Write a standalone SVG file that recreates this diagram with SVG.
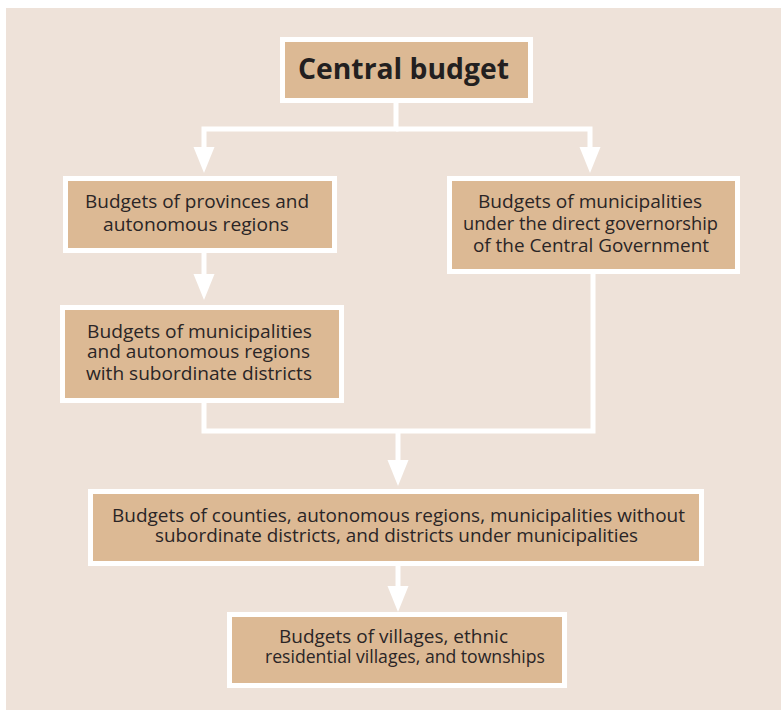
<svg xmlns="http://www.w3.org/2000/svg" width="781" height="710" viewBox="0 0 781 710">
  <style>
    .panel { fill: #eee2d9; }
    .box { fill: #dcb994; stroke: #ffffff; stroke-width: 5; }
    .lbl { font-family: "Open Sans", "Noto Sans", sans-serif; font-size: 18.5px; fill: #2a2526; text-anchor: middle; }
    .title { font-family: "Open Sans", "Noto Sans", sans-serif; font-size: 28px; font-weight: bold; fill: #231f20; text-anchor: middle; }
    .link { fill: none; stroke: #ffffff; stroke-width: 5; stroke-linejoin: miter; }
  </style>
  <defs>
    <marker id="head" markerUnits="userSpaceOnUse" markerWidth="26" markerHeight="21" refX="0" refY="10.5" orient="auto" overflow="visible">
      <path d="M0,0 L26,10.5 L0,21 Z" fill="#ffffff"/>
    </marker>
  </defs>

  <rect width="781" height="710" fill="#ffffff"/>
  <rect class="panel" x="6" y="8" width="775" height="702"/>

  <g id="connectors">
    <path class="link" d="M396,103 V129 H204 V147" marker-end="url(#head)"/>
    <path class="link" d="M396,129 H590 V147" marker-end="url(#head)"/>
    <path class="link" d="M204,253 V274" marker-end="url(#head)"/>
    <path class="link" d="M204,403 V431 H593 V274"/>
    <path class="link" d="M398,431 V460" marker-end="url(#head)"/>
    <path class="link" d="M398,566 V586" marker-end="url(#head)"/>
  </g>

  <g id="central">
    <rect class="box" x="282.5" y="39.5" width="248" height="61"/>
    <text class="title" x="403.5" y="79" textLength="211" lengthAdjust="spacingAndGlyphs">Central budget</text>
  </g>

  <g id="provinces">
    <rect class="box" x="65.5" y="178.5" width="269" height="72"/>
    <text class="lbl" x="197" y="208" textLength="224" lengthAdjust="spacingAndGlyphs">Budgets of provinces and</text>
    <text class="lbl" x="196" y="231" textLength="186" lengthAdjust="spacingAndGlyphs">autonomous regions</text>
  </g>

  <g id="direct-municipalities">
    <rect class="box" x="449.5" y="178.5" width="288" height="93"/>
    <text class="lbl" x="590" y="208" textLength="224" lengthAdjust="spacingAndGlyphs">Budgets of municipalities</text>
    <text class="lbl" x="590.5" y="230" textLength="255" lengthAdjust="spacingAndGlyphs">under the direct governorship</text>
    <text class="lbl" x="591" y="252" textLength="236" lengthAdjust="spacingAndGlyphs">of the Central Government</text>
  </g>

  <g id="districted-municipalities">
    <rect class="box" x="62.5" y="307.5" width="279" height="93"/>
    <text class="lbl" x="199.5" y="338" textLength="225" lengthAdjust="spacingAndGlyphs">Budgets of municipalities</text>
    <text class="lbl" x="198.5" y="358" textLength="223" lengthAdjust="spacingAndGlyphs">and autonomous regions</text>
    <text class="lbl" x="199" y="380" textLength="226" lengthAdjust="spacingAndGlyphs">with subordinate districts</text>
  </g>

  <g id="counties">
    <rect class="box" x="90.5" y="491.5" width="611" height="72"/>
    <text class="lbl" x="398.5" y="522" textLength="573" lengthAdjust="spacingAndGlyphs">Budgets of counties, autonomous regions, municipalities without</text>
    <text class="lbl" x="396.5" y="542" textLength="483" lengthAdjust="spacingAndGlyphs">subordinate districts, and districts under municipalities</text>
  </g>

  <g id="villages">
    <rect class="box" x="229.5" y="614.5" width="335" height="71"/>
    <text class="lbl" x="393.5" y="643" textLength="229" lengthAdjust="spacingAndGlyphs">Budgets of villages, ethnic</text>
    <text class="lbl" x="405" y="663" textLength="280" lengthAdjust="spacingAndGlyphs">residential villages, and townships</text>
  </g>
</svg>
